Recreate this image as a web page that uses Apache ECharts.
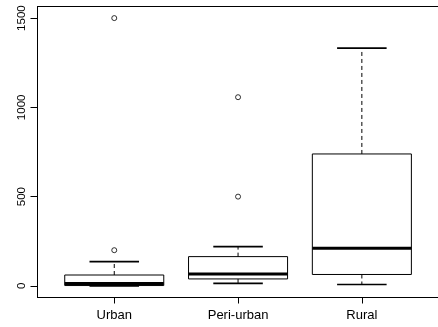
<!DOCTYPE html>
<html>
<head>
<meta charset="utf-8">
<script src="https://cdn.jsdelivr.net/npm/echarts@6/dist/echarts.min.js"></script>
<style>
  html, body { margin: 0; padding: 0; background: #fff; }
  #chart { width: 438px; height: 327px; }
</style>
</head>
<body>
<div id="chart"></div>
<script>
// Groups along the x axis
const categories = ['Urban', 'Peri-urban', 'Rural'];
// Five-number summaries per group: [lower whisker, Q1, median, Q3, upper whisker]
const boxStats = [
  [0, 2, 14, 61, 136],
  [14, 39, 67, 164, 220],
  [8, 64, 211, 739, 1332]
];
// Outlying observations per group
const outliers = [
  [200, 1500],
  [500, 1057],
  []
];
// Y axis tick labels
const yTicks = [0, 500, 1000, 1500];

const FONT = 'Liberation Sans';
const xPos = categories.map((c, i) => i + 1);

const boxData = boxStats.map((s, i) => [xPos[i]].concat(s));
const outlierData = [];
outliers.forEach((arr, i) => arr.forEach(v => outlierData.push([xPos[i], v])));

function renderBox(params, api) {
  const x = api.value(0);
  const lo = api.value(1), q1 = api.value(2), med = api.value(3), q3 = api.value(4), hi = api.value(5);
  const boxHalf = 0.4, capHalf = 0.2;
  const pt = (dx, v) => api.coord([x + dx, v]);
  const line = (a, b, style) => ({
    type: 'line',
    shape: { x1: a[0], y1: a[1], x2: b[0], y2: b[1] },
    style: Object.assign({ stroke: '#000', lineWidth: 1 }, style)
  });
  const dash = { lineDash: [4, 3] };
  const tl = pt(-boxHalf, q3), br = pt(boxHalf, q1);
  return {
    type: 'group',
    children: [
      line(pt(0, q3), pt(0, hi), dash),
      line(pt(0, q1), pt(0, lo), dash),
      line(pt(-capHalf, hi), pt(capHalf, hi), { lineWidth: 1.6 }),
      line(pt(-capHalf, lo), pt(capHalf, lo), { lineWidth: 1.6 }),
      {
        type: 'rect',
        shape: { x: tl[0], y: tl[1], width: br[0] - tl[0], height: br[1] - tl[1] },
        style: { fill: 'none', stroke: '#000', lineWidth: 1 }
      },
      line(pt(-boxHalf, med), pt(boxHalf, med), { lineWidth: 3 })
    ]
  };
}

const chart = echarts.init(document.getElementById('chart'), null, { renderer: 'canvas' });
chart.setOption({
  animation: false,
  backgroundColor: '#fff',
  grid: {
    left: 37.5, top: 6.5, width: 404, height: 291,
    outerBoundsMode: 'none',
    containLabel: false,
    show: true, borderColor: '#000', borderWidth: 1, backgroundColor: 'transparent'
  },
  xAxis: {
    type: 'value',
    min: 0.38, max: 0.38 + 404 / 123.8,
    splitLine: { show: false },
    axisLine: { show: true, onZero: false, lineStyle: { color: '#000', width: 1 } },
    axisTick: { show: true, length: 6, lineStyle: { color: '#000' }, customValues: xPos },
    axisLabel: {
      customValues: xPos,
      formatter: v => categories[Math.round(v) - 1] || '',
      fontFamily: FONT, fontSize: 13, color: '#000', margin: 11
    }
  },
  yAxis: {
    type: 'value',
    min: -65, max: 1565,
    splitLine: { show: false },
    axisLine: { show: true, onZero: false, lineStyle: { color: '#000', width: 1 } },
    axisTick: { show: true, length: 7, lineStyle: { color: '#000' }, customValues: yTicks },
    axisLabel: {
      customValues: yTicks,
      formatter: v => String(v),
      rotate: 90,
      fontFamily: FONT, fontSize: 11.5, color: '#000', margin: 10
    }
  },
  series: [
    {
      type: 'custom',
      renderItem: renderBox,
      data: boxData,
      encode: { x: 0, y: [1, 2, 3, 4, 5] },
      silent: true
    },
    {
      type: 'scatter',
      data: outlierData,
      symbol: 'circle',
      symbolSize: 5,
      itemStyle: { color: '#fff', borderColor: '#000', borderWidth: 1 },
      silent: true
    }
  ]
});
</script>
</body>
</html>
